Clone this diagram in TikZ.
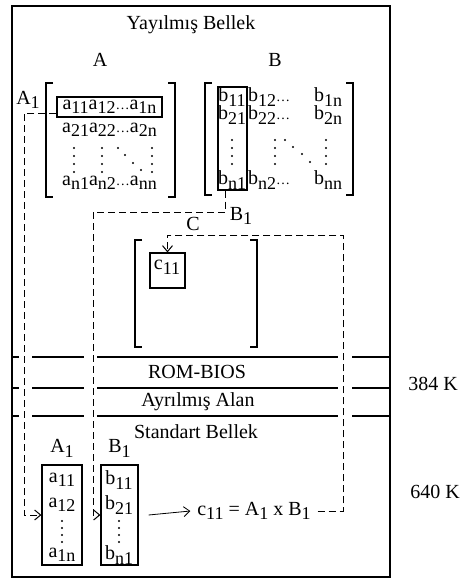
\documentclass[tikz,border=0pt]{standalone}
\usepackage{fontspec}
\setmainfont{Liberation Serif}
\usepackage{tikz}
\usetikzlibrary{arrows.meta, positioning, calc}
\newcommand{\ix}[2]{#1\raisebox{-0.5ex}{\small #2}}
\newcommand{\dts}{{\scriptsize\dots}}

\begin{document}
\begin{tikzpicture}[
    x=0.5pt, y=-0.5pt,
    >={Straight Barb[length=3pt,width=5pt]},
    frame/.style={line width=1pt},
    band/.style={line width=1.3pt},
    bracket/.style={line width=0.6pt},
    boxed/.style={draw, line width=0.6pt, inner sep=1pt},
    entry/.style={inner sep=0.5pt},
    linkline/.style={dash pattern=on 3.5pt off 2pt, line width=0.5pt}
]
\useasboundingbox (0,0) rectangle (460,579);

\draw[frame] (12,6) rectangle (390,577);
\node (title) at (191,25) {Yayılmış Bellek};

\node (labA) at (100,60) {A};
\node (labB) at (275,60) {B};
\draw[bracket] (53,83) -- (46,83) -- (46,197) -- (53,197);
\draw[bracket] (168,83) -- (175,83) -- (175,197) -- (168,197);
\draw[bracket] (212,83) -- (205,83) -- (205,195) -- (212,195);
\draw[bracket] (346,83) -- (353,83) -- (353,195) -- (346,195);

\node[boxed, minimum width=52.5pt, minimum height=10pt] (rowA1) at (109.5,107) {\ix{a}{11}\ix{a}{12}\dts\ix{a}{1n}};
\node[entry] (rowA2) at (109.5,130) {\ix{a}{21}\ix{a}{22}\dts\ix{a}{2n}};
\node[entry] (rowAn) at (109.5,183) {\ix{a}{n1}\ix{a}{n2}\dts\ix{a}{nn}};
\node (labA1) at (28,100) {\ix{A}{1}};

\node[boxed, minimum width=14.5pt, minimum height=51.5pt] (colB1) at (232.5,138.5) {};
\node[entry] (b11) at (232,97) {\ix{b}{11}};
\node[entry] (b21) at (232,115) {\ix{b}{21}};
\node[entry] (bn1) at (232,180) {\ix{b}{n1}};
\node[entry] (rowB1) at (295,97) {\ix{b}{12}\dts\hspace{12pt}\ix{b}{1n}};
\node[entry] (rowB2) at (295,115) {\ix{b}{22}\dts\hspace{12pt}\ix{b}{2n}};
\node[entry] (rowBn) at (295,180) {\ix{b}{n2}\dts\hspace{12pt}\ix{b}{nn}};

\foreach \x in {74,102,152} \foreach \y in {148,156,164,172} \fill (\x,\y) circle (0.55pt);
\foreach \x/\y in {118/148,125/155,133/163,141/170} \fill (\x,\y) circle (0.55pt);
\foreach \x in {232,275,326} \foreach \y in {140,148,156,164} \fill (\x,\y) circle (0.55pt);
\foreach \x/\y in {285/140,293/147,302/154,310/162} \fill (\x,\y) circle (0.55pt);

\node (labC) at (193,224) {C};
\draw[bracket] (142,240) -- (135,240) -- (135,347) -- (142,347);
\draw[bracket] (250,240) -- (257,240) -- (257,347) -- (250,347);
\node[boxed, minimum size=17.5pt] (c11) at (167.5,270.5) {};
\node[entry] (c11txt) at (167,267) {\ix{c}{11}};

\foreach \y in {357,388,416} {
  \draw[band] (12,\y) -- (19,\y);
  \draw[band] (32,\y) -- (84,\y);
  \draw[band] (97,\y) -- (338,\y);
  \draw[band] (352,\y) -- (390,\y);
}
\node (rom) at (197,372) {ROM-BIOS};
\node (ayr) at (198,402) {Ayrılmış Alan};
\node (std) at (196,432) {Standart Bellek};
\node (k384) at (433,384) {384 K};
\node (k640) at (435,492) {640 K};

\node[boxed, minimum width=20pt, minimum height=50pt] (boxA1) at (62,515) {};
\node[boxed, minimum width=18.5pt, minimum height=50pt] (boxB1) at (119.5,515) {};
\node[above=0pt of boxA1] (labA1b) {\ix{A}{1}};
\node[above=0pt of boxB1] (labB1b) {\ix{B}{1}};
\node[entry] (a11) at (62,480) {\ix{a}{11}};
\node[entry] (a12) at (62,505) {\ix{a}{12}};
\node[entry] (a1n) at (62,555) {\ix{a}{1n}};
\node[entry] (bb11) at (119,480) {\ix{b}{11}};
\node[entry] (bb21) at (119,505) {\ix{b}{21}};
\node[entry] (bbn1) at (119,555) {\ix{b}{n1}};
\foreach \x in {62,119} \foreach \y in {521,528,535,542} \fill (\x,\y) circle (0.55pt);

\node (eq) at (254,511) {\ix{c}{11} = \ix{A}{1} x \ix{B}{1}};
\draw[->] ([xshift=5pt]boxB1.east) -- (eq.west);

\coordinate (bturn) at (93,212);
\coordinate (cturn) at (343,235);
\node (labB1) at (241,216) {\ix{B}{1}};
\draw[linkline,->] ([yshift=-3pt]rowA1.west) -- ++(-32,0) |- (boxA1.west);
\draw[linkline,->] ([xshift=-3.5pt]colB1.south) |- (bturn) |- (boxB1.west);
\draw[linkline,->] (eq.east) -| (cturn) -| (c11.north);
\end{tikzpicture}
\end{document}
